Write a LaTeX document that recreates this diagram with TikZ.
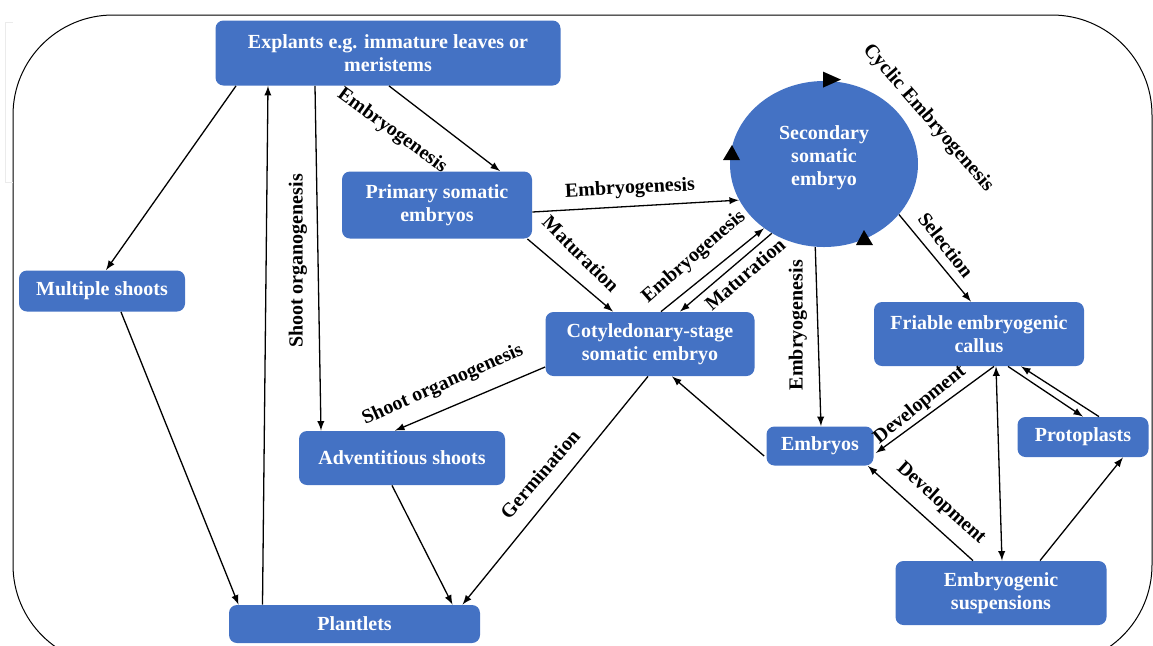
\documentclass[tikz,border=0pt]{standalone}
\usepackage{fontspec}
\setmainfont{Liberation Serif}
\usetikzlibrary{calc,shapes.geometric}
\definecolor{boxblue}{RGB}{68,114,196}

\begin{document}
\begin{tikzpicture}[x=0.5pt,y=-0.5pt,
    box/.style={fill=boxblue,rounded corners=4pt,text=white,font=\fontsize{10}{11.5}\selectfont\bfseries,align=center,inner sep=0pt},
    lbl/.style={font=\fontsize{10}{11.5}\selectfont\bfseries,inner sep=0pt},
    arr/.style={-latex,line width=0.65pt}]
        \useasboundingbox (0,0) rectangle (1153,645);
        \clip (0,0) rectangle (1153,645);
        \draw[line width=0.5pt,rounded corners=50pt] (13,15) rectangle (1152,665);
        \draw[black!8] (13,22) -- (5,22) -- (5,182) -- (13,182);
        \node[box,minimum width=172.5pt,minimum height=32.5pt] (expl) at (388,53) {Explants e.g. immature leaves or\\meristems};
        \node[box,minimum width=95pt,minimum height=33.5pt] (prim) at (437,205) {Primary somatic\\embryos};
        \node[box,minimum width=83pt,minimum height=20.5pt] (mult) at (102,291) {Multiple shoots};
        \node[box,minimum width=104.5pt,minimum height=32pt] (coty) at (650,344) {Cotyledonary-stage\\somatic embryo};
        \node[box,minimum width=105pt,minimum height=32pt] (fria) at (979,334) {Friable embryogenic\\callus};
        \node[box,minimum width=103pt,minimum height=27pt] (advs) at (402,458) {Adventitious shoots};
        \node[box,minimum width=53.5pt,minimum height=19.5pt] (embr) at (820,446) {Embryos};
        \node[box,minimum width=65.5pt,minimum height=20pt] (prot) at (1083,437) {Protoplasts};
        \node[box,minimum width=125.5pt,minimum height=19pt] (plnt) at (354.5,624) {Plantlets};
        \node[box,minimum width=105.5pt,minimum height=32pt] (susp) at (1001,593) {Embryogenic\\suspensions};
        \node[box,ellipse,rounded corners=0pt,minimum width=94pt,minimum height=83pt,font=\fontsize{10}{12.5}\selectfont\bfseries] (sec) at (824,164) {};
        \node[box,fill=none] (sect) at (824,158) {Secondary\\somatic\\embryo};
        \fill ($(sec.north)+(17,-1)$) -- ($(sec.north)+(-1,-9)$) -- ($(sec.north)+(-1,7)$) -- cycle;
        \fill ($(sec.center)+(-92,-19)$) -- ($(sec.center)+(-101,-4)$) -- ($(sec.center)+(-84,-4)$) -- cycle;
        \fill ($(sec.center)+(40,66)$) -- ($(sec.center)+(32,81)$) -- ($(sec.center)+(49,81)$) -- cycle;
        \draw[arr] ($(expl.south)+(-152,0)$) -- ($(mult.north)+(4,0)$);
        \draw[arr] ($(mult.south)+(19,0)$) -- ($(plnt.north)+(-116,0)$);
        \draw[arr] ($(plnt.north)+(-92,0)$) -- ($(expl.south)+(-120,0)$);
        \draw[arr] ($(expl.south)+(-73,0)$) -- ($(advs.north)+(-81,0)$);
        \draw[arr] ($(expl.south)+(1,0)$) -- ($(prim.north)+(63,0)$);
        \draw[arr] ($(prim.east)+(0,7)$) -- (sec.203);
        \draw[arr] ($(prim.south east)+(-5,0)$) -- ($(coty.north)+(-37,0)$);
        \draw[arr] ($(coty.north)+(11,0)$) -- (sec.227);
        \draw[arr] (sec.233) -- ($(coty.north)+(30,0)$);
        \draw[arr] (sec.264) -- ($(embr.north)+(1,0)$);
        \draw[arr] (sec.-34) -- ($(fria.north)+(-8,0)$);
        \draw[arr] ($(fria.south)+(15,0)$) -- ($(embr.east)+(2,7)$);
        \draw[arr,latex-latex] ($(fria.south)+(17,0)$) -- ($(susp.north)+(1,0)$);
        \draw[arr] ($(fria.south)+(29,0)$) -- (prot.north);
        \draw[arr] ($(prot.north)+(16,0)$) -- ($(fria.south)+(42,0)$);
        \draw[arr] ($(susp.north)+(-28,0)$) -- ($(embr.south east)+(-6,0)$);
        \draw[arr] ($(susp.north)+(39,0)$) -- ($(prot.south)+(40,0)$);
        \draw[arr] ($(embr.west)+(-2,10)$) -- ($(coty.south)+(22,0)$);
        \draw[arr] ($(coty.west)+(0,23)$) -- ($(advs.north)+(-7,0)$);
        \draw[arr] ($(coty.south)+(-2,0)$) -- ($(plnt.north)+(108,0)$);
        \draw[arr] ($(advs.south)+(-10,0)$) -- ($(plnt.north)+(98,0)$);
        \node[lbl,rotate=-36] (l1) at (392,131) {Embryogenesis};
        \node[lbl,rotate=90] (l2) at (298,261) {Shoot organogenesis};
        \node[lbl,rotate=3] (l3) at (630,189) {Embryogenesis};
        \node[lbl,rotate=-45] (l4) at (581,254) {Maturation};
        \node[lbl,rotate=41] (l5) at (694,257) {Embryogenesis};
        \node[lbl,rotate=41] (l6) at (745,274) {Maturation};
        \node[lbl,rotate=90] (l7) at (798,325) {Embryogenesis};
        \node[lbl,rotate=-52] (l8) at (946,245) {Selection};
        \node[lbl,rotate=-49] (l9) at (928,118) {Cyclic Embryogenesis};
        \node[lbl,rotate=39] (l10) at (920,405) {Development};
        \node[lbl,rotate=-42] (l11) at (941,503) {Development};
        \node[lbl,rotate=24] (l12) at (443,385) {Shoot organogenesis};
        \node[lbl,rotate=49] (l13) at (540,474) {Germination};
    \end{tikzpicture}
\end{document}
